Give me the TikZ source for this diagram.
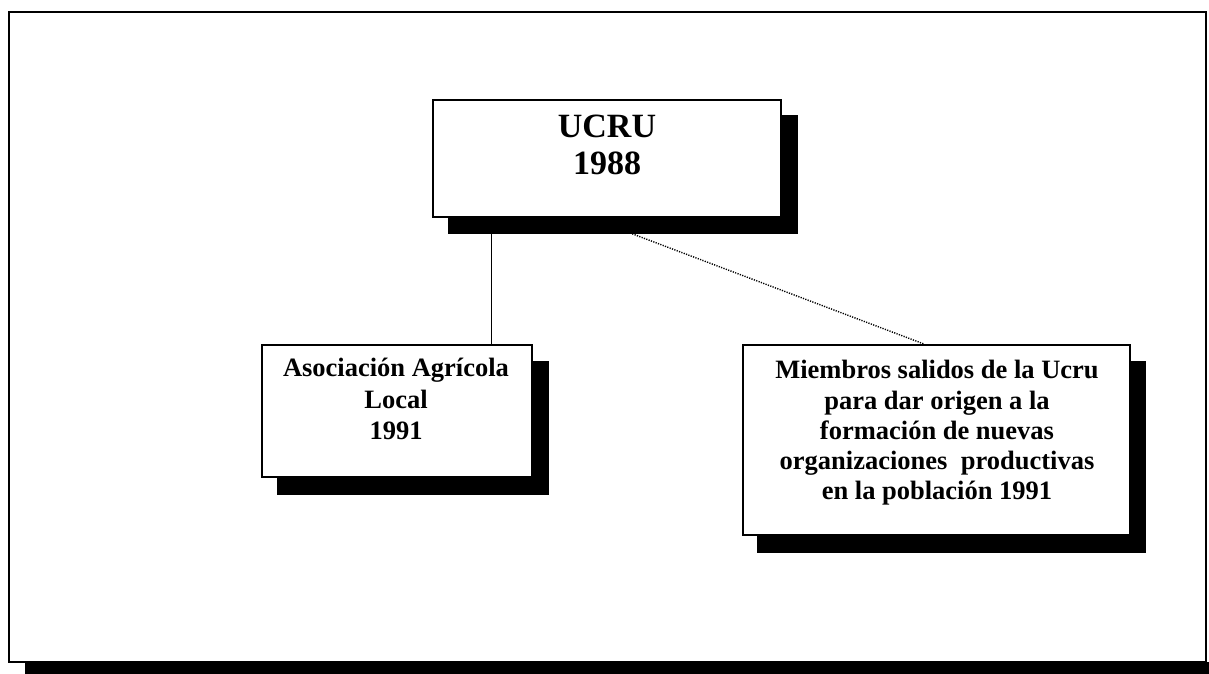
\documentclass[tikz,border=0pt]{standalone}
\usepackage{fontspec}
\setmainfont{Liberation Serif}
\usetikzlibrary{backgrounds,calc}
\tikzset{
  box/.style={draw=black, line width=1.6pt, fill=white, inner sep=0pt},
  shadowfill/.style={fill=black},
  txt/.style={align=center, inner sep=0pt, font=\bfseries},
  conn/.style={draw=black, line width=1.3pt},
  dotconn/.style={draw=black, line width=1.4pt, dash pattern=on 1.2pt off 1.3pt},
}
\begin{document}
\begin{tikzpicture}[x=1pt,y=-1pt]
\useasboundingbox (0,0) rectangle (1209,674);
% outer frame and its shadow
\fill (25,662) rectangle (1209,674);
\draw[line width=2pt] (9,12) rectangle (1206,662);
% boxes
\node[box, minimum width=348, minimum height=117] (ucru) at (607,158.5) {};
\node[box, minimum width=270, minimum height=132] (aal) at (397,411) {};
\node[box, minimum width=387, minimum height=190] (mie) at (936.5,440) {};
\begin{pgfonlayer}{background}
  \fill[shadowfill] ([shift={(16,16)}]ucru.north west) rectangle ([shift={(16,16)}]ucru.south east);
  \fill[shadowfill] ([shift={(16,17)}]aal.north west) rectangle ([shift={(16,17)}]aal.south east);
  \fill[shadowfill] ([shift={(15,17)}]mie.north west) rectangle ([shift={(15,17)}]mie.south east);
\end{pgfonlayer}
% texts
\node[txt, font=\bfseries\fontsize{34}{37}\selectfont] (ucrut) at (607,145) {UCRU\\1988};
\node[txt, font=\bfseries\fontsize{26.5}{31.5}\selectfont] (aalt) at (396,399) {Asociación Agrícola\\Local\\1991};
\node[txt, font=\bfseries\fontsize{26.5}{30.25}\selectfont] (miet) at (937,433) {Miembros salidos de la Ucru\\para dar origen a la\\formación de nuevas\\organizaciones\ \ productivas\\en la población 1991};
% connectors
\draw[conn] ([xshift=59pt]ucru.south west) -- ([xshift=59pt]ucru.south west |- aal.north);
\draw[dotconn] ([shift={(200,16)}]ucru.south west) -- ([xshift=-12pt]mie.north);
\end{tikzpicture}
\end{document}
